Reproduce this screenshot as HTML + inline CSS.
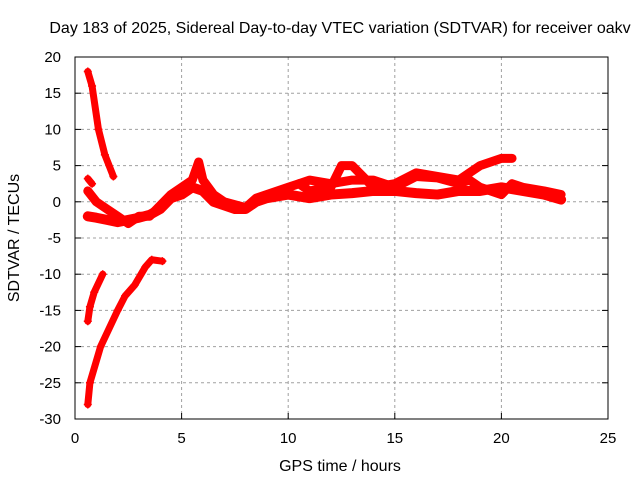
<!DOCTYPE html>
<html><head><meta charset="utf-8"><style>
body{margin:0;background:#fff}
svg text{font-family:"Liberation Sans",sans-serif;font-size:15px;fill:#000}
svg text.big{font-size:16px}
</style></head><body>
<svg id="chart" width="640" height="480">
<text class="big" x="340" y="33" text-anchor="middle">Day 183 of 2025, Sidereal Day-to-day VTEC variation (SDTVAR) for receiver oakv</text>
<text class="big" x="340" y="471" text-anchor="middle">GPS time / hours</text>
<text class="big" transform="translate(19,238) rotate(-90)" text-anchor="middle">SDTVAR / TECUs</text>
<g id="grid"></g><g id="axes"></g><g id="marks"></g>
<rect x="75" y="57" width="533" height="362" fill="none" stroke="#000"/>
</svg>
<script>
const xTicks=[0,5,10,15,20,25];
const yTicks=[20,15,10,5,0,-5,-10,-15,-20,-25,-30];
const series1=[[0.6,18],[0.8,16],[1.1,10],[1.4,6.5],[1.8,3.5]];
const series2=[[0.6,-16.5],[0.7,-14.5],[0.9,-12.5],[1.3,-10]];
const series3=[[0.6,-28],[0.7,-25],[1.2,-20],[2.0,-15],[2.35,-13],[2.8,-11.5],[3.3,-9],[3.6,-8],[4.1,-8.2]];
const series4=[[0.6,-2],[1,-2.2],[1.5,-2.5],[2,-2.8],[2.5,-2.5],[3,-2.2],[3.5,-1.8],[4,-1],[4.5,0.5],[5,1],[5.5,2],[6,1.5],[6.5,0],[7,-0.5],[7.5,-1],[8,-1],[8.5,0],[9,0.5],[10,1],[11,0.5],[12,1],[13,1.2],[14,1.5],[15,1.5],[16,1.2],[17,1],[18,1.5],[19,1.5],[20,2],[21,1.5],[22,1],[22.8,0.3]];
const series5=[[0.6,1.5],[1,0],[1.5,-1],[2,-2],[2.5,-3],[3,-2],[3.5,-2],[4,-0.5],[4.5,1],[5,2],[5.5,3],[5.8,5.5],[6,3],[6.5,1],[7,0],[8,-0.8],[8.5,0.5],[9,1],[10,2],[10.5,2.5],[11,1.5],[12,2],[12.5,5],[13,5],[13.5,3.5],[14,2],[15,2.5],[16,4],[17,3.5],[18,3],[19,5],[20,6],[20.5,6]];
const series6=[[10.5,2.5],[11,3],[12,2.5],[13,3],[14,3],[15,2],[16,3.5],[17,3.3],[18,2.5],[18.5,3],[19,2],[20,1],[20.5,2.5],[21,2],[22,1.5],[22.8,1]];
const series7=[[0.6,3.2],[0.8,2.5]];
const allSeries=[series1,series2,series3,series4,series5,series6,series7];
const widths=[7,7,7,10,9,9,7];
const NS="http://www.w3.org/2000/svg";
const X=h=>75+h*533/25, Y=v=>57+(20-v)*362/50;
function mk(t,a,p){const e=document.createElementNS(NS,t);for(const k in a)e.setAttribute(k,a[k]);p.appendChild(e);return e;}
const grid=document.getElementById('grid'),axes=document.getElementById('axes'),marks=document.getElementById('marks');
xTicks.forEach(t=>{
 if(t>0&&t<25){const l=mk('line',{x1:X(t),x2:X(t),y1:57,y2:419,stroke:'#a0a0a0','stroke-dasharray':'3,3'},grid);
 
 }
 mk('line',{x1:X(t),x2:X(t),y1:419,y2:413,stroke:'#000'},axes);
 const tx=mk('text',{x:X(t),y:443,'text-anchor':'middle'},axes);tx.textContent=t;
 
 
});
yTicks.forEach(t=>{
 if(t<20&&t>-30){const l=mk('line',{x1:75,x2:608,y1:Y(t),y2:Y(t),stroke:'#a0a0a0','stroke-dasharray':'3,3'},grid);
 
 }
 mk('line',{x1:75,x2:81,y1:Y(t),y2:Y(t),stroke:'#000'},axes);
 mk('line',{x1:602,x2:608,y1:Y(t),y2:Y(t),stroke:'#000'},axes);
 const tx=mk('text',{x:61,y:Y(t)+5,'text-anchor':'end'},axes);tx.textContent=t;
 
 
});
allSeries.forEach((s,i)=>{
 const pl=mk('polyline',{points:s.map(p=>X(p[0])+','+Y(p[1])).join(' '),fill:'none',stroke:'#ff0000','stroke-width':widths[i],'stroke-linejoin':'round','stroke-linecap':'round'},marks);
 
 
 s.forEach(p=>{const x=X(p[0]),y=Y(p[1]);
  const m=mk('path',{d:`M${x-4},${y}h8M${x},${y-4}v8`,stroke:'#ff0000','stroke-width':1.5},marks);
  
  
 });
});
</script>
</body></html>
